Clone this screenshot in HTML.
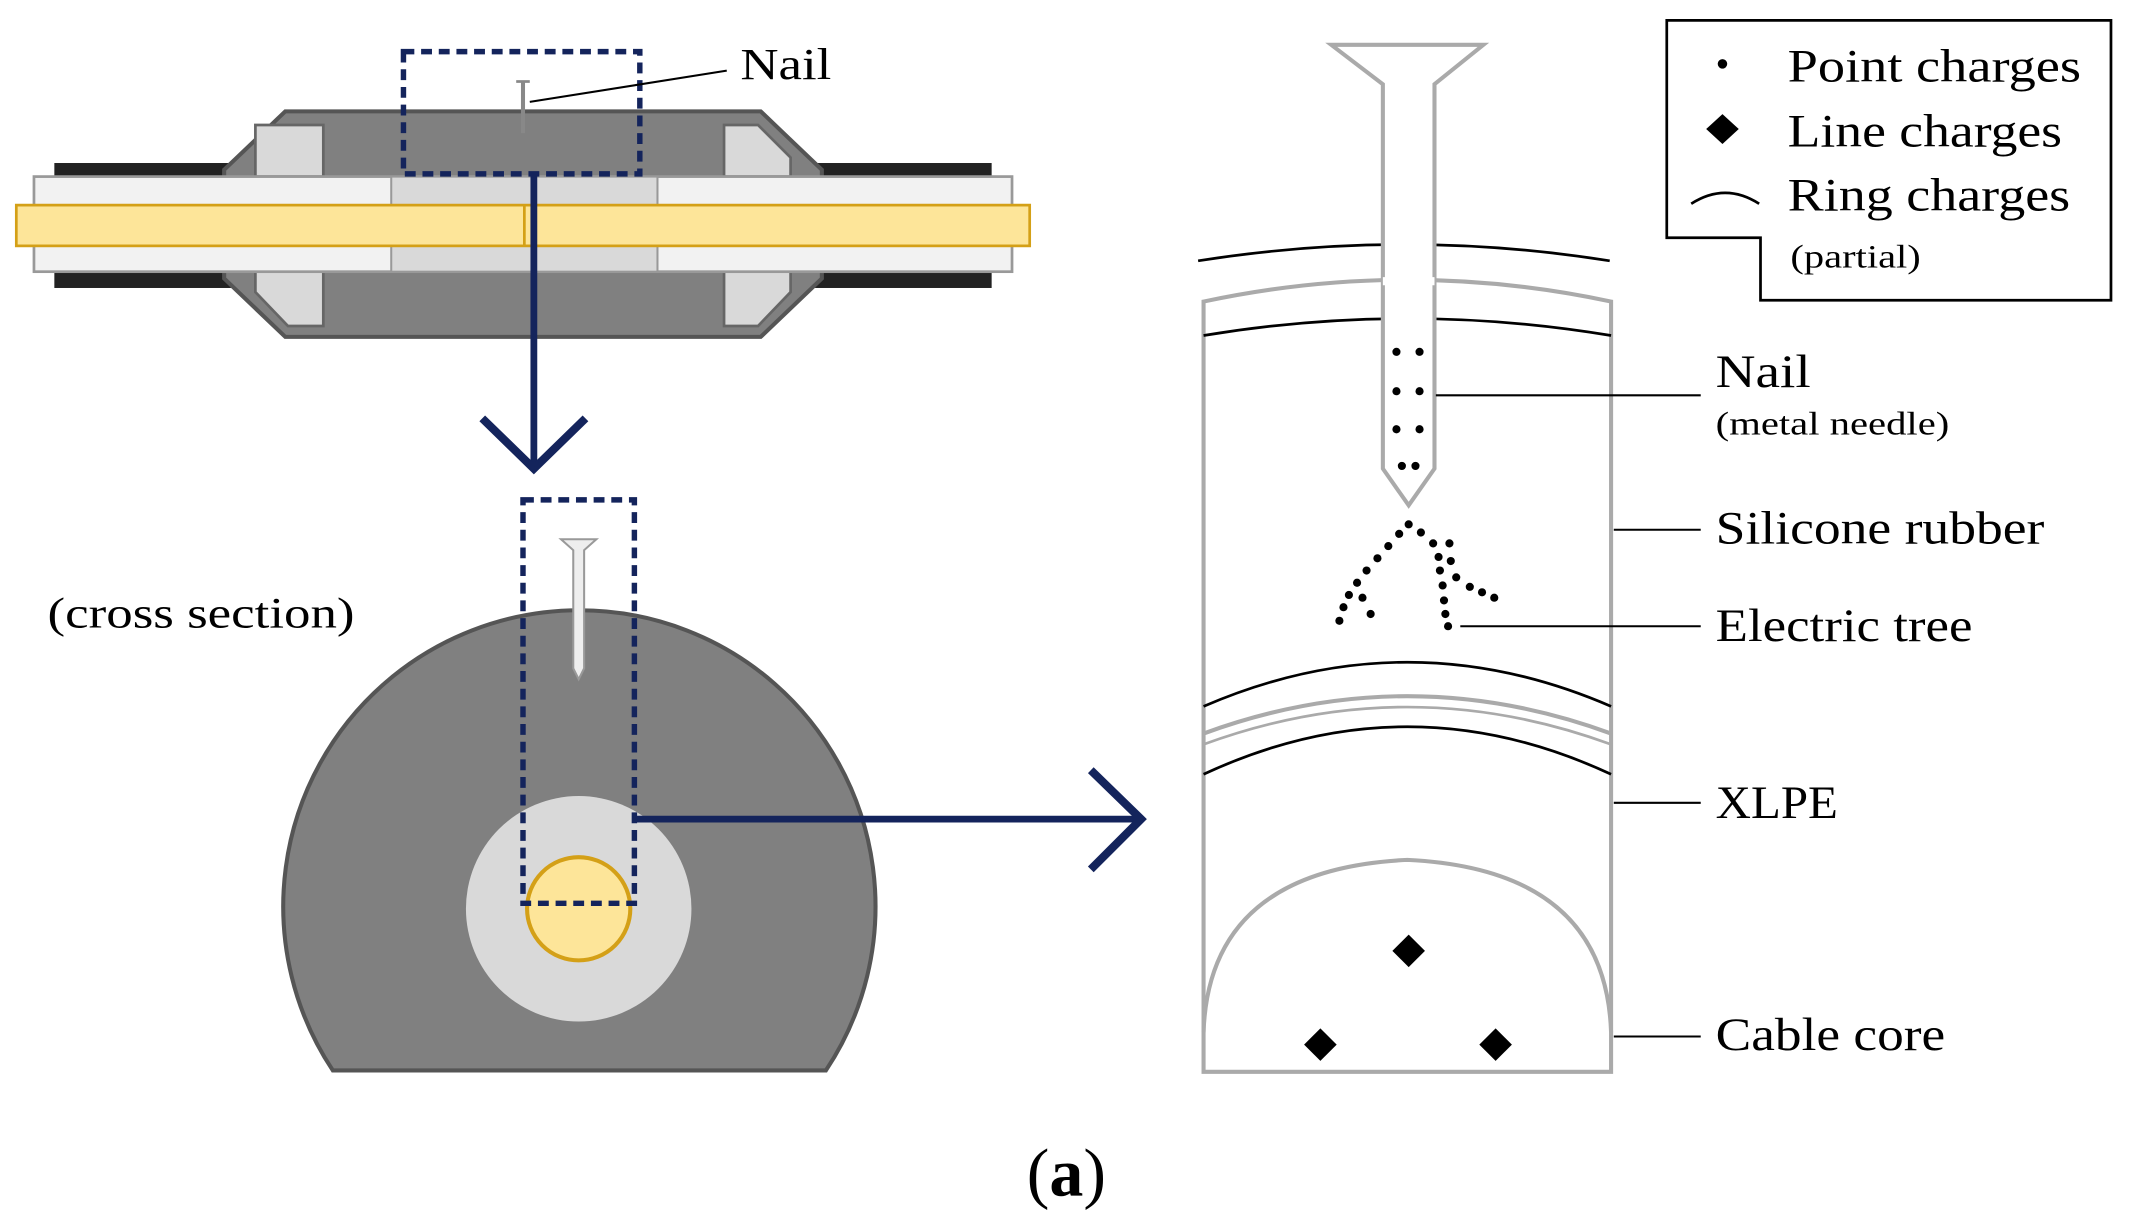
<!DOCTYPE html>
<html><head><meta charset="utf-8"><style>
html,body{margin:0;padding:0;background:#fff;}
svg{display:block;}
text{font-family:"Liberation Serif",serif;fill:#000;}
</style></head><body>
<svg width="2130" height="1228" viewBox="0 0 1568 904" xmlns="http://www.w3.org/2000/svg">
<!-- top joint -->
<rect x="40" y="120" width="130" height="92" fill="#222"/>
<rect x="600" y="120" width="130" height="92" fill="#222"/>
<polygon points="210,82 560,82 605,125 605,205 560,248 210,248 165,205 165,125" fill="#808080" stroke="#555" stroke-width="3"/>
<polygon points="188,92 238,92 238,130 188,130" fill="#d9d9d9" stroke="#666" stroke-width="2"/>
<polygon points="188,200 238,200 238,240 212,240 188,215" fill="#d9d9d9" stroke="#666" stroke-width="2"/>
<polygon points="533,92 558,92 582,116 582,130 533,130" fill="#d9d9d9" stroke="#666" stroke-width="2"/>
<polygon points="533,200 582,200 582,215 558,240 533,240" fill="#d9d9d9" stroke="#666" stroke-width="2"/>
<rect x="25" y="130" width="720" height="70" fill="#f2f2f2" stroke="#999" stroke-width="2"/>
<rect x="288" y="130" width="196" height="70" fill="#d9d9d9" stroke="#999" stroke-width="1.5"/>
<rect x="12" y="151" width="746" height="30" fill="#fde599" stroke="#d4a017" stroke-width="2"/>
<line x1="386" y1="151" x2="386" y2="181" stroke="#d4a017" stroke-width="2"/>
<line x1="385" y1="60" x2="385" y2="98" stroke="#888" stroke-width="3"/>
<line x1="380" y1="60" x2="390" y2="60" stroke="#888" stroke-width="2"/>
<rect x="297" y="38" width="174" height="90" fill="none" stroke="#14245c" stroke-width="4" stroke-dasharray="8,5"/>
<line x1="390" y1="75" x2="535" y2="52" stroke="#000" stroke-width="1.5"/>
<text x="545" y="58" font-size="33" textLength="67" lengthAdjust="spacingAndGlyphs">Nail</text>
<!-- down arrow -->
<line x1="393" y1="128" x2="393" y2="342" stroke="#14245c" stroke-width="5"/>
<polyline points="355,308 393,345 431,308" fill="none" stroke="#14245c" stroke-width="6"/>
<!-- cross section -->
<path d="M245,788 A218,218 0 1 1 608,788 Z" fill="#808080" stroke="#555" stroke-width="3"/>
<circle cx="426" cy="669" r="83" fill="#d9d9d9"/>
<circle cx="426" cy="669" r="38" fill="#fde599" stroke="#d4a017" stroke-width="3"/>
<polygon points="413,397 439,397 430,405 430,492 426,500 422,492 422,405" fill="#eee" stroke="#999" stroke-width="1.5"/>
<rect x="385" y="368" width="82" height="297" fill="none" stroke="#14245c" stroke-width="4" stroke-dasharray="8,5"/>
<text x="35" y="462" font-size="32" textLength="226" lengthAdjust="spacingAndGlyphs">(cross section)</text>
<!-- right arrow -->
<line x1="467" y1="603" x2="840" y2="603" stroke="#14245c" stroke-width="5"/>
<polyline points="803,567 840,603 803,640" fill="none" stroke="#14245c" stroke-width="6"/>
<!-- right panel -->
<path d="M886,222 Q1036,190 1186,222 L1186,789 L886,789 Z" fill="#fff" stroke="#aaa" stroke-width="3"/>
<path d="M882,192 Q1034,168 1185,192" fill="none" stroke="#000" stroke-width="2"/>
<path d="M886,247 Q1036,222 1186,247" fill="none" stroke="#000" stroke-width="2"/>
<path d="M886,520 Q1036,455 1186,520" fill="none" stroke="#000" stroke-width="2"/>
<path d="M886,540 Q1036,485 1186,540" fill="none" stroke="#aaa" stroke-width="3"/>
<path d="M886,548 Q1036,493 1186,548" fill="none" stroke="#aaa" stroke-width="2"/>
<path d="M886,570 Q1036,500 1186,570" fill="none" stroke="#000" stroke-width="2"/>
<path d="M886,760 Q890,640 1036,633 Q1182,640 1186,760" fill="none" stroke="#aaa" stroke-width="3"/>
<!-- nail -->
<polygon points="980,33 1092,33 1056,62 1056,345 1037,372 1018,345 1018,62" fill="#fff" stroke="#aaa" stroke-width="3"/>
<line x1="1018" y1="207" x2="1056" y2="207" stroke="#fff" stroke-width="6" stroke-dasharray="6,3"/>
<g fill="#000">
<circle cx="1028" cy="259" r="3"/><circle cx="1045" cy="259" r="3"/>
<circle cx="1028" cy="288" r="3"/><circle cx="1045" cy="288" r="3"/>
<circle cx="1028" cy="316" r="3"/><circle cx="1045" cy="316" r="3"/>
<circle cx="1032" cy="343" r="3"/><circle cx="1042" cy="343" r="3"/>
<circle cx="1037" cy="386" r="3"/><circle cx="1030" cy="393" r="3"/><circle cx="1022" cy="402" r="3"/>
<circle cx="1014" cy="411" r="3"/><circle cx="1006" cy="420" r="3"/><circle cx="999" cy="429" r="3"/>
<circle cx="993" cy="438" r="3"/><circle cx="989" cy="447" r="3"/><circle cx="986" cy="457" r="3"/>
<circle cx="1003" cy="440" r="3"/><circle cx="1009" cy="452" r="3"/>
<circle cx="1046" cy="392" r="3"/><circle cx="1055" cy="400" r="3"/><circle cx="1059" cy="410" r="3"/>
<circle cx="1060" cy="420" r="3"/><circle cx="1062" cy="431" r="3"/><circle cx="1063" cy="442" r="3"/>
<circle cx="1064" cy="452" r="3"/><circle cx="1066" cy="461" r="3"/>
<circle cx="1067" cy="400" r="3"/><circle cx="1068" cy="413" r="3"/><circle cx="1072" cy="425" r="3"/>
<circle cx="1082" cy="432" r="3"/><circle cx="1091" cy="436" r="3"/><circle cx="1100" cy="440" r="3"/>
<polygon points="1037,688 1049,700 1037,712 1025,700"/>
<polygon points="972,757 984,769 972,781 960,769"/>
<polygon points="1101,757 1113,769 1101,781 1089,769"/>
</g>
<g stroke="#000" stroke-width="1.5">
<line x1="1057" y1="291" x2="1252" y2="291"/>
<line x1="1188" y1="390" x2="1252" y2="390"/>
<line x1="1075" y1="461" x2="1252" y2="461"/>
<line x1="1188" y1="591" x2="1252" y2="591"/>
<line x1="1188" y1="763" x2="1252" y2="763"/>
</g>
<text x="1263" y="285" font-size="34" textLength="70" lengthAdjust="spacingAndGlyphs">Nail</text>
<text x="1263" y="320" font-size="24" textLength="172" lengthAdjust="spacingAndGlyphs">(metal needle)</text>
<text x="1263" y="400" font-size="34" textLength="242" lengthAdjust="spacingAndGlyphs">Silicone rubber</text>
<text x="1263" y="472" font-size="34" textLength="189" lengthAdjust="spacingAndGlyphs">Electric tree</text>
<text x="1263" y="602" font-size="34" textLength="90" lengthAdjust="spacingAndGlyphs">XLPE</text>
<text x="1263" y="773" font-size="34" textLength="169" lengthAdjust="spacingAndGlyphs">Cable core</text>
<!-- legend -->
<polygon points="1227,15 1554,15 1554,221 1296,221 1296,175 1227,175" fill="#fff" stroke="#000" stroke-width="2"/>
<circle cx="1268" cy="47" r="3.5" fill="#000"/>
<polygon points="1268,84 1280,95 1268,106 1256,95" fill="#000"/>
<path d="M1245,150 Q1270,134 1295,150" fill="none" stroke="#000" stroke-width="2"/>
<text x="1316" y="60" font-size="34" textLength="216" lengthAdjust="spacingAndGlyphs">Point charges</text>
<text x="1316" y="108" font-size="34" textLength="202" lengthAdjust="spacingAndGlyphs">Line charges</text>
<text x="1316" y="155" font-size="34" textLength="208" lengthAdjust="spacingAndGlyphs">Ring charges</text>
<text x="1318" y="197" font-size="24" textLength="96" lengthAdjust="spacingAndGlyphs">(partial)</text>
<text x="785" y="880" font-size="50" text-anchor="middle"><tspan>(</tspan><tspan font-weight="bold">a</tspan><tspan>)</tspan></text>
</svg>
</body></html>
